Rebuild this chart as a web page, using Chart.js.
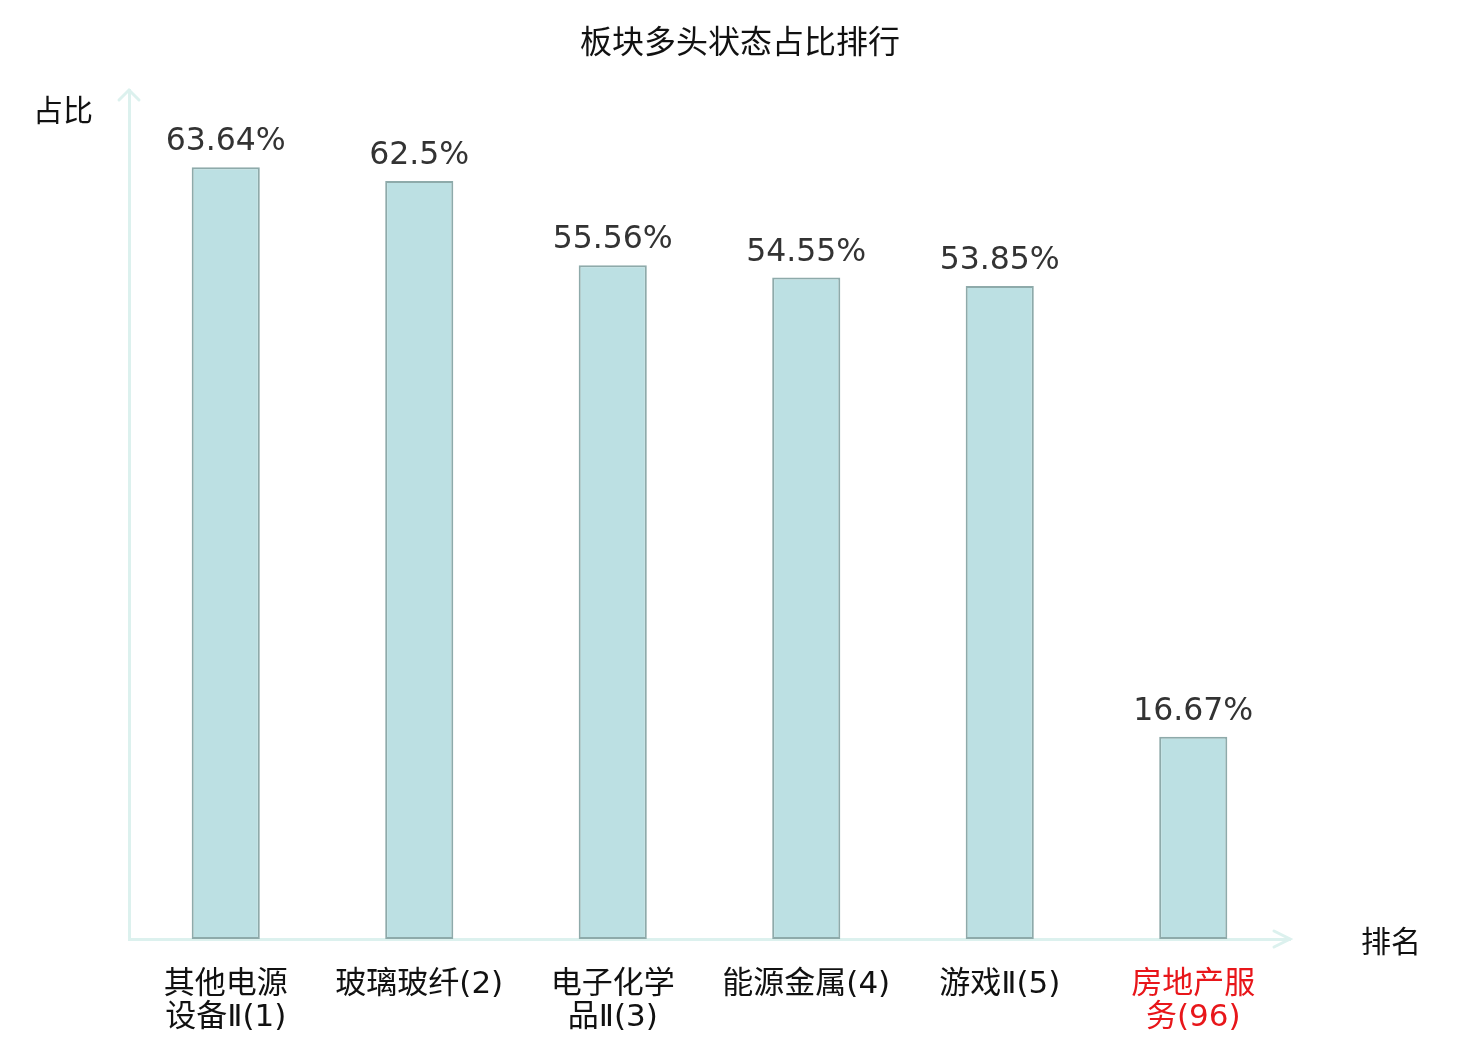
<!DOCTYPE html>
<html>
<head>
<meta charset="utf-8">
<script src="https://cdn.jsdelivr.net/npm/chart.js@4"></script>
<style>
html,body{margin:0;padding:0;background:#fff;}
#wrap{width:1480px;height:1040px;}
</style>
</head>
<body>
<div id="wrap"><canvas id="c" width="1480" height="1040"></canvas></div>
<script>
const chartTitle = '板块多头状态占比排行';
const categories = [
  ['其他电源', '设备Ⅱ(1)'],
  ['玻璃玻纤(2)'],
  ['电子化学', '品Ⅱ(3)'],
  ['能源金属(4)'],
  ['游戏Ⅱ(5)'],
  ['房地产服', '务(96)']
];
const values = [63.64, 62.5, 55.56, 54.55, 53.85, 16.67];
const valueLabels = ['63.64%', '62.5%', '55.56%', '54.55%', '53.85%', '16.67%'];
const labelColors = ['#111111', '#111111', '#111111', '#111111', '#111111', '#e8161a'];
const yAxisName = '占比';
const xAxisName = '排名';

const FONT = '"DejaVu Sans", "Noto Sans CJK SC", sans-serif';
const TICKFONT = '"DejaVu Sans ExtraLight", "DejaVu Sans", "Noto Sans CJK SC", sans-serif';
const AXIS = '#dcf1ee';

const decor = {
  id: 'decor',
  afterDatasetsDraw(chart) {
    const ctx = chart.ctx;
    const a = chart.chartArea;
    ctx.save();
    // arrows
    ctx.strokeStyle = AXIS;
    ctx.lineWidth = 3;
    ctx.lineCap = 'round';
    ctx.beginPath();
    ctx.moveTo(a.left - 10, a.top + 10);
    ctx.lineTo(a.left, a.top);
    ctx.lineTo(a.left + 10, a.top + 10);
    ctx.stroke();
    ctx.beginPath();
    ctx.moveTo(a.right - 16, a.bottom - 8);
    ctx.lineTo(a.right, a.bottom);
    ctx.lineTo(a.right - 16, a.bottom + 8);
    ctx.stroke();
    // title
    ctx.fillStyle = '#111111';
    ctx.font = '32px ' + FONT;
    ctx.textAlign = 'center';
    ctx.textBaseline = 'middle';
    ctx.fillText(chartTitle, chart.width / 2, 45);
    // value labels
    const meta = chart.getDatasetMeta(0);
    ctx.fillStyle = '#333333';
    ctx.font = '31.5px ' + FONT;
    meta.data.forEach((bar, i) => {
      ctx.fillText(valueLabels[i], bar.x, bar.y - 25);
    });
    // axis names
    ctx.fillStyle = '#111111';
    ctx.font = '30px ' + FONT;
    ctx.fillText(yAxisName, a.left - 66, a.top + 23);
    ctx.fillText(xAxisName, a.right + 101, a.bottom + 5);
    ctx.restore();
  }
};

new Chart(document.getElementById('c'), {
  type: 'bar',
  data: {
    labels: categories,
    datasets: [{
      data: values,
      backgroundColor: '#bce0e3',
      borderColor: '#8eaaaa',
      borderWidth: 2,
      borderSkipped: false,
      barPercentage: 0.352,
      categoryPercentage: 1
    }]
  },
  options: {
    responsive: false,
    animation: false,
    devicePixelRatio: 1,
    layout: { padding: { left: 129, right: 190, top: 90, bottom: 0 } },
    plugins: {
      legend: { display: false },
      tooltip: { enabled: false },
      title: { display: false }
    },
    scales: {
      x: {
        grid: { display: false },
        border: { display: true, color: AXIS, width: 3 },
        ticks: {
          color: labelColors,
          font: { family: TICKFONT, size: 31, lineHeight: 1.05 },
          padding: 22,
          maxRotation: 0,
          autoSkip: false
        },
        afterFit(scale) { scale.height = 101; }
      },
      y: {
        min: 0,
        max: 70,
        grid: { display: false },
        border: { display: true, color: AXIS, width: 3 },
        ticks: { display: false },
        afterFit(scale) { scale.width = 0; }
      }
    }
  },
  plugins: [decor]
});
</script>
</body>
</html>
